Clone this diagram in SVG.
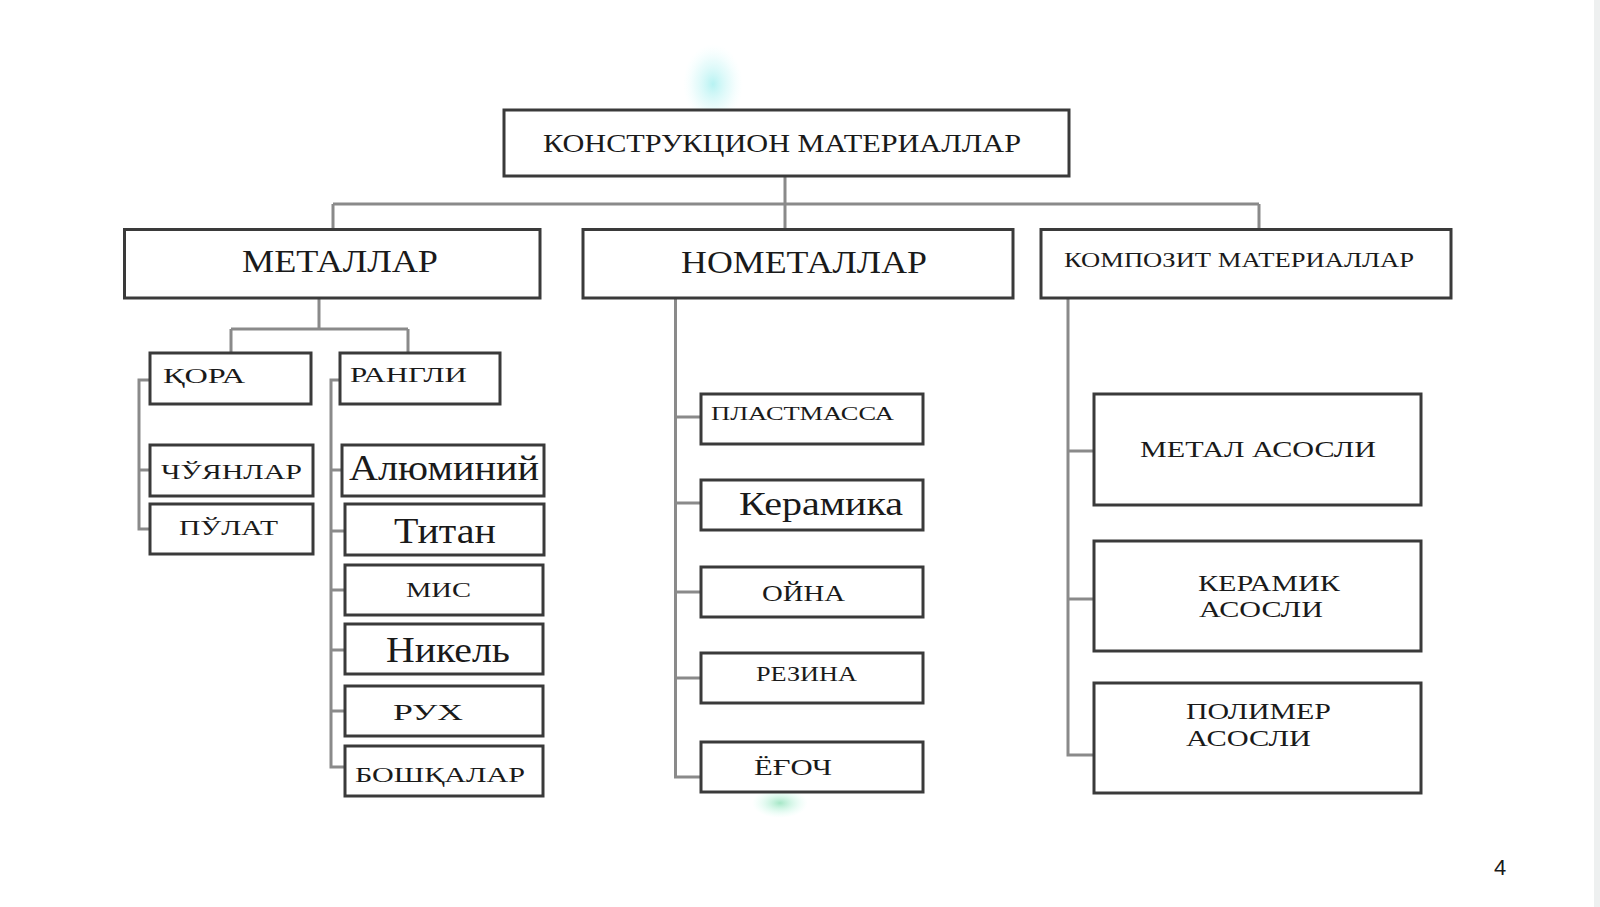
<svg xmlns="http://www.w3.org/2000/svg" width="1600" height="907" viewBox="0 0 1600 907">
<style>
.box{fill:#fff;stroke:#3a3a3a;stroke-width:3}
.con{fill:none;stroke:#8a8a8a;stroke-width:3}
text{font-family:"Liberation Serif","Times New Roman",serif;fill:#1a1a1a}
</style>
<defs>
<radialGradient id="cy" cx="50%" cy="50%" r="50%"><stop offset="0" stop-color="#9eeeee" stop-opacity="0.75"/><stop offset="0.6" stop-color="#c6f6f6" stop-opacity="0.35"/><stop offset="1" stop-color="#e6ffff" stop-opacity="0"/></radialGradient>
<radialGradient id="gr" cx="50%" cy="50%" r="50%"><stop offset="0" stop-color="#8fe0b8" stop-opacity="0.8"/><stop offset="1" stop-color="#cfe" stop-opacity="0"/></radialGradient>
</defs>
<rect width="1600" height="907" fill="#fff"/>
<rect x="1594" y="0" width="6" height="907" fill="#eef0f0"/>
<ellipse cx="713" cy="84" rx="30" ry="40" fill="url(#cy)"/>
<ellipse cx="780" cy="803" rx="28" ry="15" fill="url(#gr)"/>

<g id="connectors">
<path class="con" d="M785 176V229M333 204H1259M333 204V229M1259 204V229"/>
<path class="con" d="M319 298V329M231 329H408M231 329V353M408 329V353"/>
<path class="con" d="M150 380H139V529H150M139 470H150"/>
<path class="con" d="M340 380H331V767H345M331 470H342M331 531H345M331 590H345M331 650H345M331 711H345"/>
<path class="con" d="M675.5 298V777H701M675.5 417H701M675.5 503H701M675.5 592H701M675.5 678H701"/>
<path class="con" d="M1068 298V755H1094M1068 451H1094M1068 599H1094"/>
</g>

<g id="root"><rect class="box" x="504" y="110" width="565" height="66"/><text x="543" y="152" font-size="26" textLength="478" lengthAdjust="spacingAndGlyphs">КОНСТРУКЦИОН МАТЕРИАЛЛАР</text></g>

<g id="metallar"><rect class="box" x="124.5" y="229.5" width="415.5" height="68.5"/><text x="242" y="272" font-size="31" textLength="196" lengthAdjust="spacingAndGlyphs">МЕТАЛЛАР</text></g>
<g id="nometallar"><rect class="box" x="583" y="229.5" width="430" height="68.5"/><text x="681" y="273" font-size="31" textLength="246" lengthAdjust="spacingAndGlyphs">НОМЕТАЛЛАР</text></g>
<g id="kompozit"><rect class="box" x="1041" y="229.5" width="410" height="68.5"/><text x="1064" y="267" font-size="21" textLength="350" lengthAdjust="spacingAndGlyphs">КОМПОЗИТ МАТЕРИАЛЛАР</text></g>

<g id="qora"><rect class="box" x="150" y="353" width="161" height="51"/><text x="163" y="383" font-size="22" textLength="82" lengthAdjust="spacingAndGlyphs">ҚОРА</text></g>
<g id="rangli"><rect class="box" x="340" y="353" width="160" height="51"/><text x="350" y="382" font-size="22" textLength="117" lengthAdjust="spacingAndGlyphs">РАНГЛИ</text></g>
<g id="chuyanlar"><rect class="box" x="150" y="445" width="163" height="51"/><text x="161" y="479" font-size="22" textLength="141" lengthAdjust="spacingAndGlyphs">ЧЎЯНЛАР</text></g>
<g id="pulat"><rect class="box" x="150" y="504" width="163" height="50"/><text x="179" y="535" font-size="22" textLength="99" lengthAdjust="spacingAndGlyphs">ПЎЛАТ</text></g>

<g id="alyuminiy"><rect class="box" x="342" y="445" width="202" height="51"/><text x="349" y="480" font-size="35" textLength="190" lengthAdjust="spacingAndGlyphs">Алюминий</text></g>
<g id="titan"><rect class="box" x="345" y="504" width="199" height="51"/><text x="394" y="543" font-size="35" textLength="102" lengthAdjust="spacingAndGlyphs">Титан</text></g>
<g id="mis"><rect class="box" x="345" y="565" width="198" height="50"/><text x="406" y="597" font-size="21" textLength="65" lengthAdjust="spacingAndGlyphs">МИС</text></g>
<g id="nikel"><rect class="box" x="345" y="624" width="198" height="50"/><text x="386" y="662" font-size="35" textLength="124" lengthAdjust="spacingAndGlyphs">Никель</text></g>
<g id="rux"><rect class="box" x="345" y="686" width="198" height="50"/><text x="393" y="720" font-size="24" textLength="70" lengthAdjust="spacingAndGlyphs">РУХ</text></g>
<g id="boshqalar"><rect class="box" x="345" y="746" width="198" height="50"/><text x="355" y="782" font-size="22" textLength="170" lengthAdjust="spacingAndGlyphs">БОШҚАЛАР</text></g>

<g id="plastmassa"><rect class="box" x="701" y="394" width="222" height="50"/><text x="711" y="420" font-size="19" textLength="183" lengthAdjust="spacingAndGlyphs">ПЛАСТМАССА</text></g>
<g id="keramika"><rect class="box" x="701" y="480" width="222" height="50"/><text x="739" y="515" font-size="34" textLength="164" lengthAdjust="spacingAndGlyphs">Керамика</text></g>
<g id="oyna"><rect class="box" x="701" y="567" width="222" height="50"/><text x="762" y="601" font-size="23" textLength="83" lengthAdjust="spacingAndGlyphs">ОЙНА</text></g>
<g id="rezina"><rect class="box" x="701" y="653" width="222" height="50"/><text x="756" y="681" font-size="20" textLength="101" lengthAdjust="spacingAndGlyphs">РЕЗИНА</text></g>
<g id="yogoch"><rect class="box" x="701" y="742" width="222" height="50"/><text x="754" y="775" font-size="23" textLength="78" lengthAdjust="spacingAndGlyphs">ЁҒОЧ</text></g>

<g id="metal-asosli"><rect class="box" x="1094" y="394" width="327" height="111"/><text x="1140" y="457" font-size="23" textLength="236" lengthAdjust="spacingAndGlyphs">МЕТАЛ АСОСЛИ</text></g>
<g id="keramik-asosli"><rect class="box" x="1094" y="541" width="327" height="110"/><text x="1198" y="591" font-size="23" textLength="142" lengthAdjust="spacingAndGlyphs">КЕРАМИК</text><text x="1199" y="617" font-size="23" textLength="124" lengthAdjust="spacingAndGlyphs">АСОСЛИ</text></g>
<g id="polimer-asosli"><rect class="box" x="1094" y="683" width="327" height="110"/><text x="1186" y="719" font-size="23" textLength="145" lengthAdjust="spacingAndGlyphs">ПОЛИМЕР</text><text x="1186" y="746" font-size="23" textLength="125" lengthAdjust="spacingAndGlyphs">АСОСЛИ</text></g>

<text x="1500" y="875" font-size="22" text-anchor="middle" style="font-family:'Liberation Sans',Arial,sans-serif">4</text>
</svg>
